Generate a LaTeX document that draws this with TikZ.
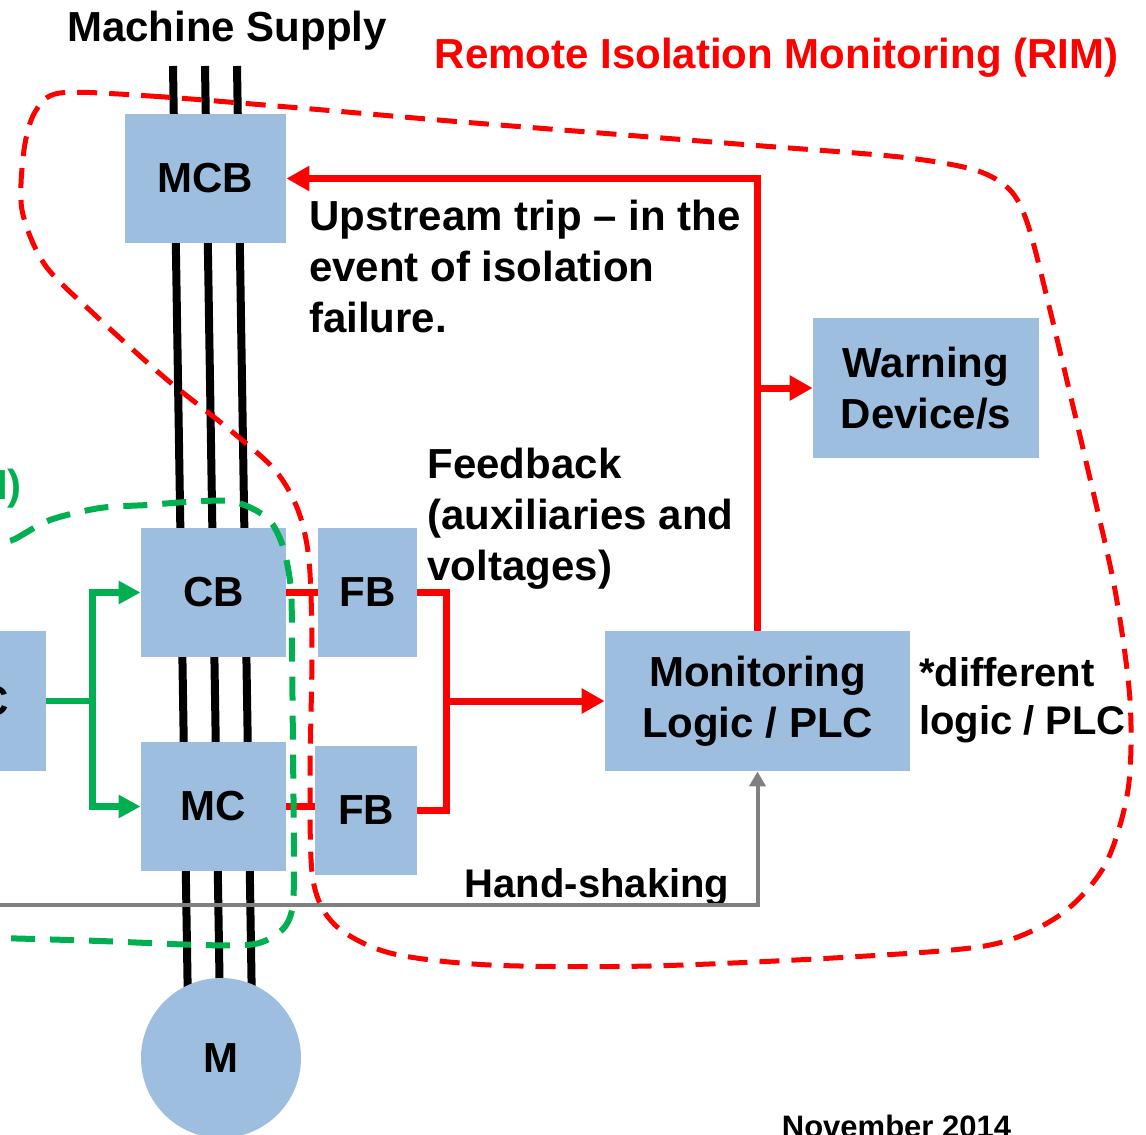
\documentclass[tikz,border=0pt]{standalone}
\usepackage{fontspec}
\setmainfont{Liberation Sans}
\usetikzlibrary{positioning,arrows.meta}

\definecolor{boxblue}{RGB}{158,190,224}
\definecolor{rimred}{RGB}{255,0,0}
\definecolor{ccigreen}{RGB}{0,176,80}
\definecolor{hsgrey}{RGB}{128,128,128}

\newcommand{\diagfont}{\fontsize{21pt}{25.5pt}\selectfont\bfseries}
\newcommand{\smalldiagfont}{\fontsize{20pt}{24pt}\selectfont\bfseries}
\newcommand{\datefont}{\fontsize{15.5pt}{18pt}\selectfont\bfseries}

\tikzstyle{feedline} = [draw, rimred, line width=3.5pt]
\tikzstyle{redarrow} = [feedline, -{Triangle[length=11.5pt, width=12pt]}]
\tikzstyle{ctrl} = [draw, ccigreen, line width=3.25pt, -{Triangle[length=11pt, width=11pt]}]
\tikzstyle{hshake} = [draw, hsgrey, line width=2pt, -{Triangle[length=7.5pt, width=8pt]}]
\tikzstyle{phase} = [draw, black, line width=4pt]
\tikzstyle{block} = [rectangle, fill=boxblue, text centered, inner sep=0pt, minimum height=64.5pt, font=\diagfont, node distance=0mm]
\tikzstyle{block2} = [block, minimum height=70pt, align=center]
\tikzstyle{motor} = [circle, fill=boxblue, minimum size=80pt, inner sep=0pt, font=\diagfont, node distance=0mm]
\tikzstyle{note} = [inner sep=0pt, align=left, font=\diagfont, node distance=0mm]
\tikzstyle{rimzone} = [draw, rimred, line width=2.5pt, dash pattern=on 10pt off 6pt]
\tikzstyle{ccizone} = [draw, ccigreen, line width=3pt, dash pattern=on 12pt off 7.5pt]

\begin{document}
\begin{tikzpicture}[x=0.5pt, y=-0.5pt]
\useasboundingbox (0,0) rectangle (1146,1135);
\clip (0,0) rectangle (1146,1135);
% supply phases (behind the blocks)
\coordinate (ph1a) at (173,66);
\coordinate (ph2a) at (205,66);
\coordinate (ph3a) at (237,66);
\coordinate (ph1b) at (188,1010);
\coordinate (ph2b) at (220,1010);
\coordinate (ph3b) at (252,1010);
\path [phase] (ph1a) -- (ph1b);
\path [phase] (ph2a) -- (ph2b);
\path [phase] (ph3a) -- (ph3b);
% power path
\node [block, minimum width=80.5pt] (mcb) at (205.5,178.5) {MCB};
\node [block, minimum width=72.5pt, right of=mcb, xshift=4pt, yshift=-207pt] (cb) {CB};
\node [block, minimum width=72.5pt, right of=cb, yshift=-107pt] (mc) {MC};
\node [motor, right of=mc, xshift=3.75pt, yshift=-125.75pt] (motor) {M};
% feedback blocks
\node [block, minimum width=49.5pt, right of=cb, xshift=77pt] (fb1) {FB};
\node [block, minimum width=51pt, right of=mc, xshift=76.25pt, yshift=-2pt] (fb2) {FB};
% logic and warning
\node [block2, minimum width=152.5pt, right of=fb1, xshift=195pt, yshift=-54.25pt] (monit) {Monitoring\\Logic / PLC};
\node [block2, minimum width=113pt, right of=monit, xshift=84.25pt, yshift=156.5pt] (warn) {Warning\\Device/s};
\node [block2, minimum width=79pt, text width=42pt, align=right, right of=cb, xshift=-123.25pt, yshift=-54.25pt] (plc) {C};
% labels
\node [note, right of=mcb, xshift=10.75pt, yshift=74pt] (supply) {Machine Supply};
\node [note, text=rimred, right of=mcb, xshift=285.5pt, yshift=60.25pt] (rim) {Remote Isolation Monitoring (RIM)};
\node [note, text=ccigreen, right of=cb, xshift=-102.25pt, yshift=51.75pt] (cci) {I)};
\node [note, right of=mcb, xshift=159.75pt, yshift=-43.75pt] (trip) {Upstream trip – in the\\event of isolation\\failure.};
\node [note, right of=fb1, xshift=106.5pt, yshift=36.75pt] (feed) {Feedback\\(auxiliaries and\\voltages)};
\node [note, font=\smalldiagfont, right of=monit, xshift=132.5pt, yshift=0.5pt] (diff) {*different\\logic / PLC};
\node [note, font=\smalldiagfont, right of=monit, xshift=-80.25pt, yshift=-93pt] (hs) {Hand-shaking};
\node [note, font=\datefont, right of=monit, xshift=69.5pt, yshift=-212.5pt] (date) {November 2014};
% trip and warning
\path [redarrow] (monit.north) |- (mcb.east);
\path [redarrow] (monit.north |- warn.west) -- (warn.west);
% feedback
\path [feedline] (cb.east) -- (fb1.west);
\path [feedline] (mc.east) -- (mc.east -| fb2.west);
\path [feedline] (fb1.east) -- ++(14.5pt,0) coordinate (bus) |- (fb2.east);
\path [redarrow] (bus |- monit.west) -- (monit.west);
% control
\path [ctrl] (plc.east) -- ++(23pt,0) coordinate (gbus) |- (cb.west);
\path [ctrl] (gbus) |- (mc.west);
% hand-shaking
\coordinate (hsin) at (-20,905);
\path [hshake] (hsin) -| (monit.south);
% zones
\draw [rimzone] plot [smooth cycle, tension=0.5] coordinates {(60,93) (150,96) (300,108) (450,121) (600,133) (750,145) (900,157) (975,170) (1010,190) (1028,225) (1050,310) (1088,470) (1115,590) (1130,700) (1128,790) (1105,865) (1060,915) (990,945) (850,957) (650,966) (490,965) (390,953) (335,925) (313,880) (310,780) (312,650) (309,560) (298,510) (275,470) (230,430) (165,378) (95,315) (45,265) (22,210) (24,150) (35,112)};
\draw [ccizone] plot [smooth cycle, tension=0.5] coordinates {(-30,560) (13,540) (50,520) (100,508) (147,505) (187,502) (230,501) (257,511) (273,525) (284,550) (291,590) (292,650) (293,750) (294,870) (292,910) (282,930) (255,944) (200,945) (100,941) (0,938) (-30,937) (-60,750)};
\end{tikzpicture}
\end{document}
